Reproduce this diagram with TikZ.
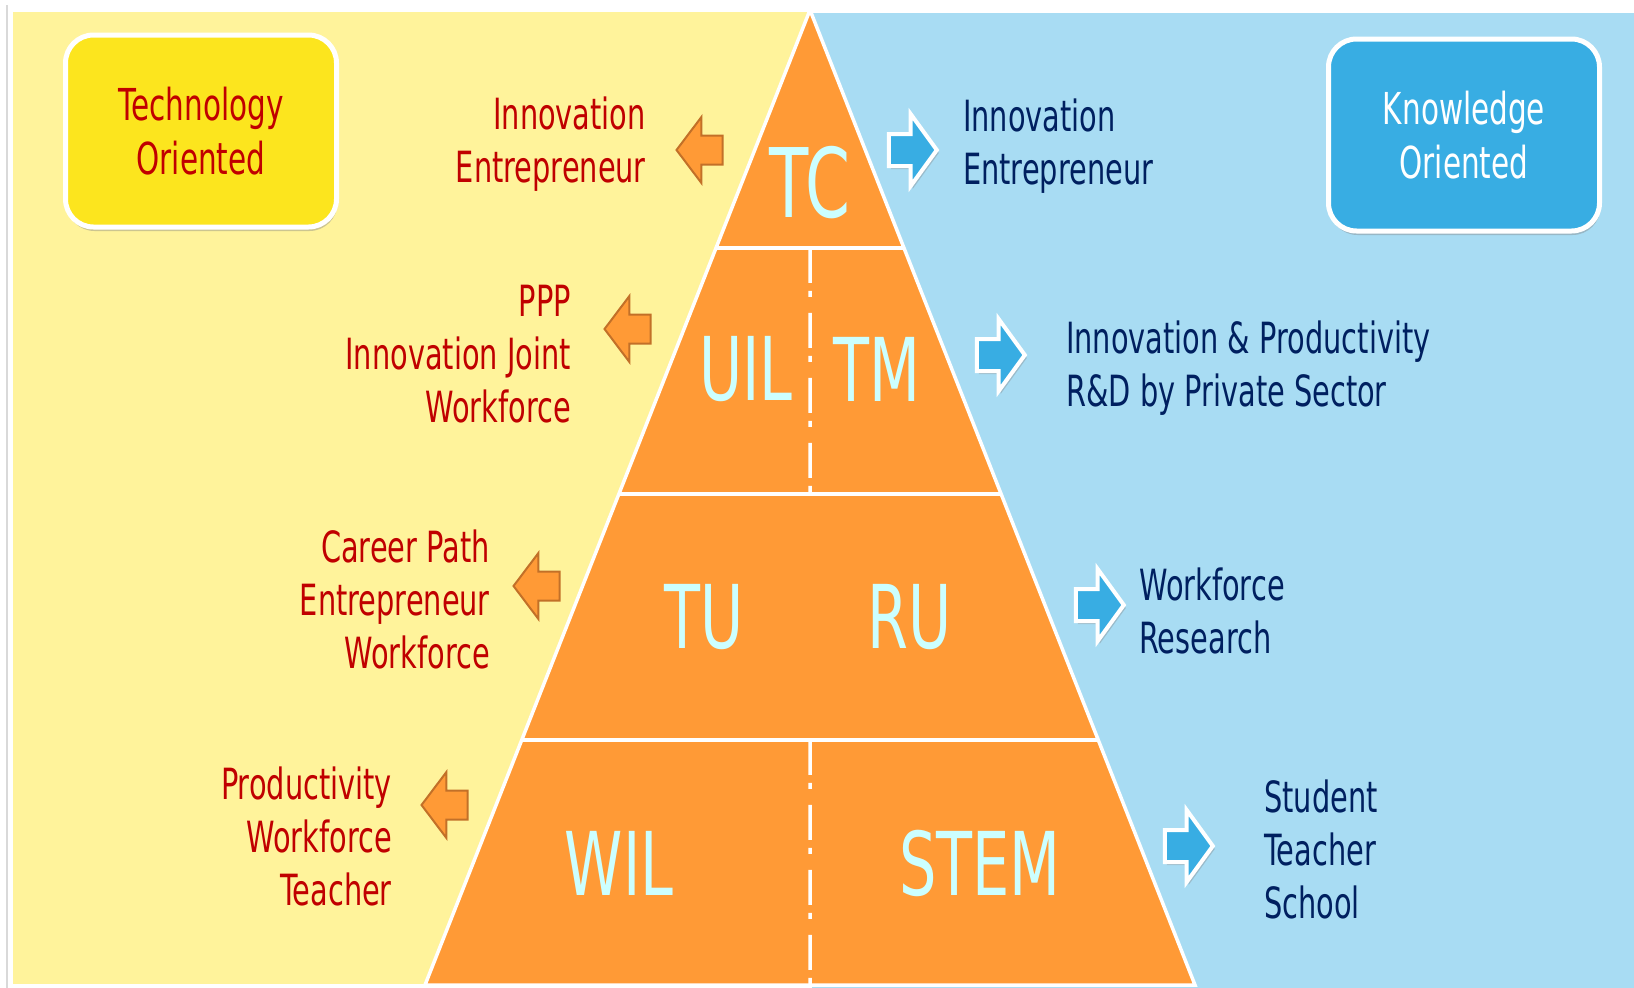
\documentclass[tikz,border=0pt]{standalone}
\usepackage{fontspec}
\setmainfont{DejaVu Sans}[FakeStretch=0.67]
\usetikzlibrary{arrows.meta}
\usetikzlibrary{positioning}
\usetikzlibrary{calc}
\usetikzlibrary{shapes.arrows}
\usetikzlibrary{shadows}

\begin{document}
\begin{tikzpicture}[x=1pt, y=-1pt,
    tier/.style={text=TierCyan, inner sep=0pt, font=\fontsize{88}{88}\selectfont},
    techtext/.style={text=TechRed, align=right, anchor=east, inner sep=0pt, font=\fontsize{43}{53}\selectfont},
    knowtext/.style={text=KnowNavy, align=left, anchor=west, inner sep=0pt, font=\fontsize{43}{53}\selectfont},
    techarrow/.style={single arrow, shape border rotate=180, draw=TechArrowEdge, line width=2pt, fill=PyrOrange, inner xsep=0pt, inner ysep=13.5pt, minimum height=46pt, minimum width=64pt, single arrow head extend=18.5pt, single arrow tip angle=106},
    knowarrow/.style={single arrow, draw=white, line width=4pt, fill=KnowBlue, inner xsep=0pt, inner ysep=14pt, minimum height=48pt, minimum width=68pt, single arrow head extend=20pt, single arrow tip angle=108, drop shadow={opacity=0.35, shadow xshift=2pt, shadow yshift=-3pt}},
    orientbox/.style={draw=white, line width=5pt, rounded corners=28pt, align=center, minimum width=271pt, minimum height=192pt, inner sep=0pt, font=\fontsize{44}{54}\selectfont, drop shadow={opacity=0.4, shadow xshift=1pt, shadow yshift=-4pt}}
  ]
  \definecolor{BgYellow}{RGB}{255,243,155}
  \definecolor{BgBlue}{RGB}{168,220,243}
  \definecolor{PyrOrange}{RGB}{255,154,54}
  \definecolor{TierCyan}{RGB}{204,255,255}
  \definecolor{TechRed}{RGB}{192,0,0}
  \definecolor{KnowNavy}{RGB}{0,32,96}
  \definecolor{TechYellow}{RGB}{252,229,30}
  \definecolor{KnowBlue}{RGB}{56,173,227}
  \definecolor{TechArrowEdge}{RGB}{194,112,40}

  \useasboundingbox (0,0) rectangle (1634,988);
  \fill[white] (0,0) rectangle (1634,988);
  \draw[black!15, line width=2pt] (7,5) -- (7,988);
  \fill[BgYellow] (13,12) rectangle (812,984);
  \fill[BgBlue] (812,13) rectangle (1634,988);

  % pyramid
  \coordinate (apex) at (810,10);
  \coordinate (baseL) at (425,985);
  \coordinate (baseR) at (1195,985);
  \coordinate (baseM) at (810,985);
  \fill[PyrOrange] (apex) -- (baseR) -- (baseL) -- cycle;
  \foreach \f/\n in {0.2441/1, 0.4964/2, 0.7487/3}{
    \coordinate (cutL\n) at ($(apex)!\f!(baseL)$);
    \coordinate (cutR\n) at ($(apex)!\f!(baseR)$);
    \coordinate (mid\n) at ($(cutL\n)!0.5!(cutR\n)$);
    \draw[white, line width=4.5pt] (cutL\n) -- (cutR\n);
  }
  \draw[white, line width=3.5pt] (apex) -- (baseR) -- (baseL) -- cycle;
  \draw[white, line width=3.5pt, dash pattern=on 35pt off 8pt on 6pt off 16pt] (mid1) -- (mid2);
  \draw[white, line width=3.5pt, dash pattern=on 35pt off 8pt on 6pt off 16pt] (mid3) -- (baseM);

  \node[tier, font=\fontsize{96}{96}\selectfont] (tc) at (810,183) {TC};
  \node[tier] (uil) at (746,369) {UIL};
  \node[tier] (tm) at (877,369) {TM};
  \node[tier] (tu) at (704,617) {TU};
  \node[tier] (ru) at (910,617) {RU};
  \node[tier] (wil) at (619,863) {WIL};
  \node[tier] (stem) at (980,863) {STEM};

  % the two corner boxes
  \node[orientbox, fill=TechYellow, text=TechRed] (techbox) at (201,131) {Technology\\Oriented};
  \node[orientbox, fill=KnowBlue, text=white] (knowbox) at (1464,135) {Knowledge\\Oriented};

  % arrows out of the pyramid
  \node[techarrow] (techarrA) at (705,150) {};
  \node[techarrow] (techarrB) at (633,329) {};
  \node[techarrow] (techarrC) at (542,586) {};
  \node[techarrow] (techarrD) at (450,805) {};
  \node[knowarrow] (knowarrA) at (907,150) {};
  \node[knowarrow] (knowarrB) at (995,355) {};
  \node[knowarrow] (knowarrC) at (1094,605) {};
  \node[knowarrow] (knowarrD) at (1183,846) {};

  \node[techtext] (techA) at (646,144) {Innovation\\Entrepreneur};
  \node[techtext] (techB) at (571,354) {PPP\\Innovation Joint\\Workforce};
  \node[techtext] (techC) at (490,599) {Career Path\\Entrepreneur\\Workforce};
  \node[techtext] (techD) at (392,836) {Productivity\\Workforce\\Teacher};
  \node[knowtext] (knowA) at (963,146) {Innovation\\Entrepreneur};
  \node[knowtext] (knowB) at (1066,368) {Innovation \& Productivity\\R\&D by Private Sector};
  \node[knowtext] (knowC) at (1139,611) {Workforce\\Research};
  \node[knowtext] (knowD) at (1264,849) {Student\\Teacher\\School};
\end{tikzpicture}
\end{document}
